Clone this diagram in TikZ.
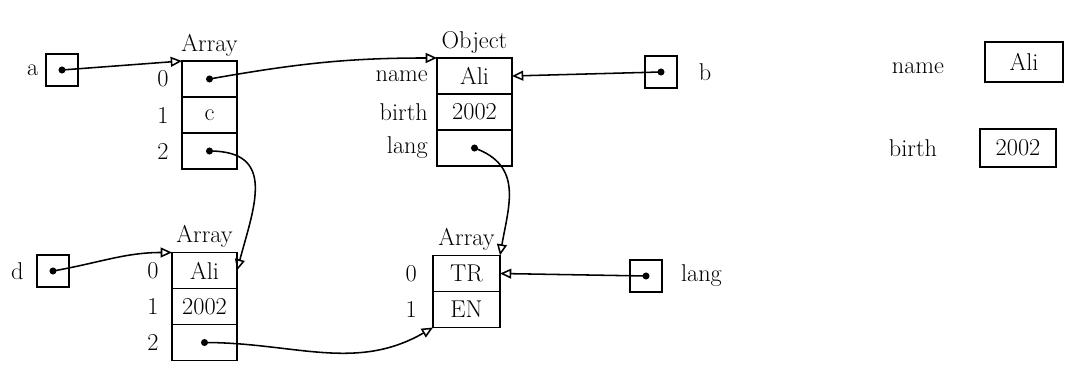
\documentclass[tikz,border=0pt]{standalone}
\usetikzlibrary{positioning,arrows.meta}
\begin{document}
\begin{tikzpicture}[x=0.025cm, y=-0.025cm, line width=1.1pt,
  every node/.style={font=\LARGE, inner sep=1pt},
  cell/.style={draw, rectangle, outer sep=0pt, minimum width=#1, minimum height=0.9cm},
  cell/.default=1.4cm,
  ptr/.style={draw, rectangle, outer sep=0pt, minimum size=0.8cm},
  ref/.style={-{Triangle[open, length=8pt, width=7pt]}}]
\useasboundingbox (0,0) rectangle (1065,365);

\node (a1c0) [cell=1.375cm] at (209.5,79) {};
\node (a1c1) [cell=1.375cm, below=0pt of a1c0] {c};
\node (a1c2) [cell=1.375cm, below=0pt of a1c1] {};
\node (a1t) [above=2pt of a1c0] {Array};
\node (a1i0) [left=8pt of a1c0] {0};
\node (a1i1) [left=8pt of a1c1] {1};
\node (a1i2) [left=8pt of a1c2] {2};

\node (o0) [cell=1.875cm] at (474.5,76) {Ali};
\node (o1) [cell=1.875cm, below=0pt of o0] {2002};
\node (o2) [cell=1.875cm, below=0pt of o1] {};
\node (ot) [above=2pt of o0] {Object};
\node (on) [left=5pt of o0] {name};
\node (ob) [left=5pt of o1] {birth};
\node (ol) [left=5pt of o2] {lang};

\node (a2c0) [cell=1.625cm] at (204.5,270.5) {Ali};
\node (a2c1) [cell=1.625cm, below=0pt of a2c0] {2002};
\node (a2c2) [cell=1.625cm, below=0pt of a2c1] {};
\node (a2t) [above=2pt of a2c0] {Array};
\node (a2i0) [left=8pt of a2c0] {0};
\node (a2i1) [left=8pt of a2c1] {1};
\node (a2i2) [left=8pt of a2c2] {2};

\node (a3c0) [cell=1.675cm] at (466.5,273.5) {TR};
\node (a3c1) [cell=1.675cm, below=0pt of a3c0] {EN};
\node (a3t) [above=2pt of a3c0] {Array};
\node (a3i0) [left=10pt of a3c0] {0};
\node (a3i1) [left=10pt of a3c1] {1};

\node (pa) [ptr] at (62,70) {};
\node (pb) [ptr] at (661,72) {};
\node (pd) [ptr] at (53,271) {};
\node (pl) [ptr] at (646,276) {};
\node (la) [left=4pt of pa] {a};
\node (lb) [right=14pt of pb] {b};
\node (ld) [left=8pt of pd] {d};
\node (ll) [right=12pt of pl] {lang};

\node (rn) at (918,68) {name};
\node (rali) [draw, minimum width=1.95cm, minimum height=1cm] at (1024,62) {Ali};
\node (rb) at (913,148) {birth};
\node (ryear) [draw, minimum width=1.9cm, minimum height=0.95cm] at (1018,148) {2002};

\foreach \n in {pa,pb,pd,pl,a1c0,a1c2,o2,a2c2}
  \fill (\n.center) circle (2.5pt);

\draw[ref] (pa.center) -- (a1c0.north west);
\draw[ref] (a1c0.center) to[out=10,in=180] (o0.north west);
\draw[ref] (pb.center) -- (o0.east);
\draw[ref] (a1c2.center) to[out=0,in=75,looseness=1.4] (a2c0.east);
\draw[ref] (pd.center) to[out=10,in=180] (a2c0.north west);
\draw[ref] (o2.center) to[out=-20,in=80,looseness=1.2] (a3c0.north east);
\draw[ref] (a2c2.center) to[out=0,in=210] (a3c1.south west);
\draw[ref] (pl.center) -- (a3c0.east);
\end{tikzpicture}
\end{document}
